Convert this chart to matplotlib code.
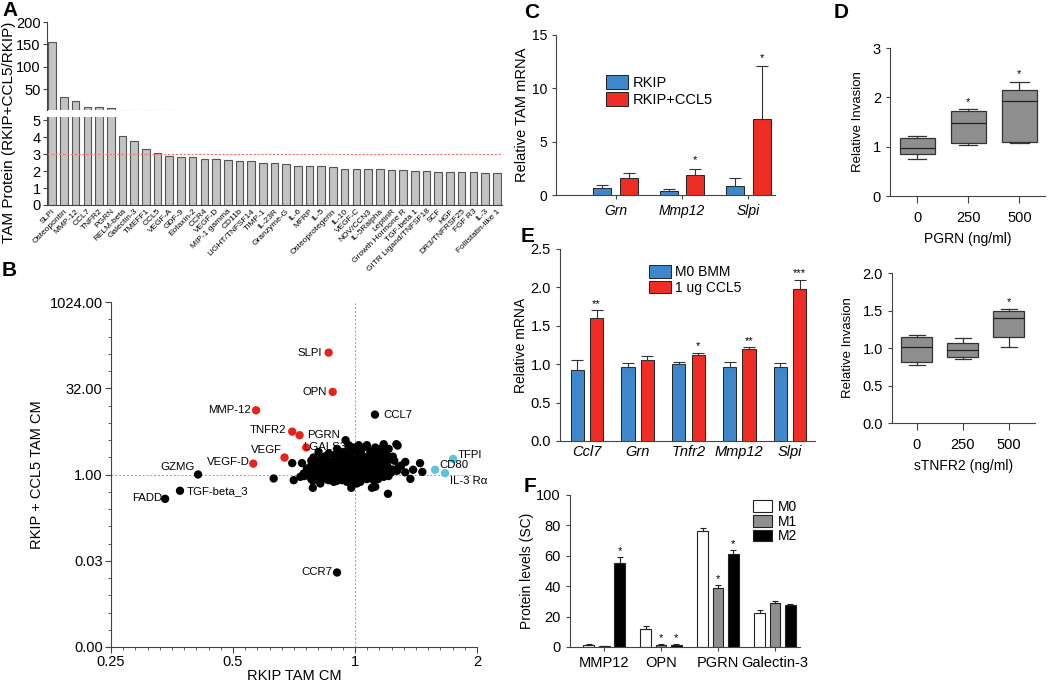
import numpy as np
import matplotlib
matplotlib.use('Agg')
import matplotlib.pyplot as plt
from matplotlib.ticker import FixedLocator, NullFormatter

plt.rcParams['font.family'] = ['Liberation Sans', 'DejaVu Sans']
plt.rcParams['axes.edgecolor'] = '#444444'
plt.rcParams['xtick.color'] = '#444444'
plt.rcParams['ytick.color'] = '#444444'
plt.rcParams['xtick.labelcolor'] = 'black'
plt.rcParams['ytick.labelcolor'] = 'black'

# ---- panel A data
a_labels = ["SLPI", "Osteopontin", "MMP-12", "CCL7", "TNFR2", "PGRN", "RELM-beta",
            "Galectin-3", "TMEFF1", "CCL5", "VEGF-A", "GDF-9", "Eotaxin-2", "CCR4",
            "VEGF-D", "MIP-1 gamma", "CD11b", "LIGHT/TNFSF14", "TIMP-1", "IL-23R",
            "Granzyme-G", "IL-6", "MFRP", "IL-5", "Osteoprotegerin", "IL-10", "VEGF-C",
            "NOV/CCN3", "IL-5Ralpha", "LeptinR", "Growth Hormone R", "TGF-beta 1",
            "GITR Ligand/TNFSF18", "SCF", "HGF", "DR3/TNFRSF25", "FGF R3", "IL-3",
            "Follistatin-like 1"]
a_values = [155, 32, 23.8, 11, 9.6, 7.6, 4.07, 3.8, 3.3, 3.07, 2.9, 2.85, 2.83, 2.72,
            2.7, 2.65, 2.6, 2.6, 2.5, 2.47, 2.44, 2.33, 2.3, 2.3, 2.27, 2.12, 2.12,
            2.12, 2.1, 2.05, 2.04, 1.98, 1.98, 1.97, 1.93, 1.93, 1.93, 1.92, 1.92]
a_cutoff = 3

# ---- panel B data (fold changes, unlabelled spots)
b_cloud_x = [1.177, 1.265, 1.274, 0.948, 0.965, 1.021, 1.070, 0.992, 1.050, 1.122,
             0.903, 1.155, 1.211, 0.813, 0.938, 1.011, 1.091, 0.861, 0.974, 1.133,
             1.188, 0.886, 0.920, 1.041, 1.199, 0.790, 0.845, 0.955, 1.070, 1.155,
             0.821, 0.894, 0.992, 1.112, 1.211, 0.806, 0.869, 0.938, 1.031, 1.133,
             1.331, 1.447, 0.700, 0.740, 0.829, 0.911, 0.974, 1.081, 1.177, 0.798,
             0.861, 0.929, 1.011, 1.091, 1.155, 1.282, 0.761, 0.821, 0.886, 0.955,
             1.041, 1.122, 1.211, 1.391, 0.790, 0.853, 0.920, 0.992, 1.070, 1.177,
             1.270, 1.466, 0.747, 0.813, 0.877, 0.947, 1.021, 1.101, 1.199, 0.768,
             0.845, 0.911, 0.974, 1.050, 1.133, 0.733, 0.798, 0.869, 0.938, 1.002,
             1.081, 1.177, 0.630, 0.829, 0.903, 0.965, 1.041, 1.370, 0.706, 0.790,
             0.861, 0.929, 0.992, 1.112, 0.886, 0.955, 1.031, 0.786, 0.821, 1.011,
             0.787, 0.979, 1.101, 1.122, 1.206,
             0.97, 1.03, 1.10, 1.18,
             0.84, 0.90, 0.96, 1.02, 1.09, 1.17, 1.24,
             0.78, 0.85, 0.91, 0.98, 1.05, 1.12, 1.19, 1.25,
             0.78, 0.84, 0.90, 0.96, 1.02, 1.06, 1.12, 1.20, 1.30,
             0.80, 0.87, 0.93, 0.99, 1.05, 1.15, 1.24,
             0.79, 0.84, 0.90, 0.96, 1.00, 1.06, 1.12, 1.23, 1.33,
             0.75, 0.83, 0.88, 0.95, 1.01, 1.06, 1.15, 1.21,
             0.78, 0.85, 0.92, 0.98, 1.07, 1.14,
             0.90, 0.97, 1.03]
b_cloud_y = [3.38, 3.38, 3.20, 3.97, 3.25, 3.25, 3.25, 2.96, 2.96, 2.96,
             2.80, 2.80, 2.80, 2.48, 2.48, 2.48, 2.48, 2.32, 2.32, 2.32,
             2.32, 2.17, 2.17, 2.17, 2.17, 1.98, 1.98, 1.98, 1.98, 1.98,
             1.83, 1.83, 1.83, 1.83, 1.83, 1.66, 1.66, 1.66, 1.66, 1.66,
             1.66, 1.58, 1.58, 1.58, 1.51, 1.51, 1.51, 1.51, 1.51, 1.36,
             1.36, 1.36, 1.36, 1.36, 1.36, 1.36, 1.27, 1.27, 1.27, 1.27,
             1.27, 1.27, 1.27, 1.21, 1.16, 1.16, 1.16, 1.16, 1.16, 1.16,
             1.16, 1.11, 1.04, 1.04, 1.04, 1.04, 1.04, 1.04, 1.04, 0.973,
             0.973, 0.973, 0.973, 0.973, 0.973, 0.911, 0.911, 0.911, 0.911, 0.911,
             0.911, 0.911, 0.852, 0.852, 0.852, 0.852, 0.852, 0.840, 0.796, 0.796,
             0.796, 0.796, 0.796, 0.796, 0.745, 0.745, 0.745, 0.786, 0.697, 0.697,
             0.586, 0.586, 0.586, 0.610, 0.460,
             2.60, 2.60, 2.60, 2.60,
             2.05, 2.05, 2.05, 2.05, 2.05, 2.05, 2.05,
             1.74, 1.74, 1.74, 1.74, 1.74, 1.74, 1.74, 1.74,
             1.43, 1.43, 1.43, 1.43, 1.43, 1.43, 1.43, 1.43, 1.43,
             1.22, 1.22, 1.22, 1.22, 1.22, 1.22, 1.22,
             1.09, 1.09, 1.09, 1.09, 1.09, 1.09, 1.09, 1.09, 1.09,
             0.94, 0.94, 0.94, 0.94, 0.94, 0.94, 0.94, 0.94,
             0.83, 0.83, 0.83, 0.83, 0.83, 0.83,
             0.77, 0.77, 0.77]
b_red_names = ["SLPI", "OPN", "MMP-12", "TNFR2", "PGRN", "LGALS3", "VEGF", "VEGF-D"]
b_red_x = [0.861, 0.881, 0.570, 0.700, 0.730, 0.758, 0.670, 0.561]
b_red_y = [134, 27.6, 13.2, 5.6, 4.85, 2.96, 1.98, 1.55]
b_black_names = ["CCL7", "GZMG", "TGF-beta_3", "FADD", "CCR7"]
b_black_x = [1.12, 0.41, 0.37, 0.34, 0.903]
b_black_y = [11.1, 1.0, 0.52, 0.376, 0.0195]
b_cyan_names = ["TFPI", "CD80", "IL-3 R\u03b1"]
b_cyan_x = [1.746, 1.576, 1.668]
b_cyan_y = [1.875, 1.21, 1.055]

# ---- panel C data
c_genes = ["Grn", "Mmp12", "Slpi"]
c_rkip = [0.65, 0.35, 0.85]
c_rkip_err = [0.3, 0.2, 0.7]
c_ccl5 = [1.55, 1.85, 7.1]
c_ccl5_err = [0.5, 0.62, 5.0]
c_stars = ["", "*", "*"]

# ---- panel D data (box stats: whisker low, q1, median, q3, whisker high)
d_doses = ["0", "250", "500"]
d_pgrn = [(0.75, 0.85, 0.97, 1.17, 1.22), (1.03, 1.07, 1.48, 1.72, 1.76),
          (1.07, 1.09, 1.92, 2.15, 2.31)]
d_pgrn_stars = ["", "*", "*"]
d_tnfr2 = [(0.78, 0.82, 1.02, 1.15, 1.17), (0.85, 0.88, 0.97, 1.07, 1.14),
           (1.01, 1.15, 1.40, 1.50, 1.52)]
d_tnfr2_stars = ["", "", "*"]

# ---- panel E data
e_genes = ["Ccl7", "Grn", "Tnfr2", "Mmp12", "Slpi"]
e_m0 = [0.93, 0.96, 1.00, 0.96, 0.96]
e_m0_err = [0.13, 0.06, 0.03, 0.07, 0.06]
e_ccl5 = [1.60, 1.06, 1.12, 1.20, 1.98]
e_ccl5_err = [0.10, 0.05, 0.03, 0.02, 0.12]
e_stars = ["**", "", "*", "**", "***"]

# ---- panel F data
f_proteins = ["MMP12", "OPN", "PGRN", "Galectin-3"]
f_m0 = [1.2, 12.0, 76.0, 22.5]
f_m0_err = [0.5, 1.5, 2.0, 2.0]
f_m1 = [0.5, 1.2, 38.5, 29.0]
f_m1_err = [0.3, 0.8, 2.5, 1.0]
f_m2 = [55.0, 1.3, 61.0, 27.5]
f_m2_err = [4.0, 0.5, 3.0, 1.0]
f_m1_stars = ["", "*", "*", ""]
f_m2_stars = ["*", "*", "*", ""]

BLUE = "#3f87cc"
RED = "#ee2d24"
W, H = 1050, 686


def box(l, t, r, b):
    return [l / W, 1 - b / H, (r - l) / W, (b - t) / H]


def clean(ax, size=10):
    ax.spines['top'].set_visible(False)
    ax.spines['right'].set_visible(False)
    ax.tick_params(labelsize=size, length=3)


fig = plt.figure(figsize=(10.5, 6.86), dpi=100)

# ================= A =================
axu = fig.add_axes(box(47, 22, 502, 110))
axl = fig.add_axes(box(47, 117, 502, 205))
xa = np.arange(len(a_labels))
for ax in (axu, axl):
    ax.bar(xa, a_values, width=0.65, color="#c3c3c3", edgecolor="#555555", linewidth=0.8)
    ax.set_xlim(-0.45, len(a_labels) - 0.55)
    clean(ax, 10.5)
    ax.tick_params(axis='y', pad=1.5)
axu.set_ylim(4, 200)
axu.set_yticks([50, 100, 150, 200])
axu.spines['bottom'].set_visible(False)
axu.tick_params(axis='x', bottom=False, labelbottom=False)
axl.set_ylim(0, 5.2)
axl.set_yticks([0, 1, 2, 3, 4, 5])
axl.axhline(a_cutoff, color="#f07070", linestyle=(0, (2, 1.5)), linewidth=0.8)
axl.set_xticks(xa)
axl.set_xticklabels(a_labels, rotation=45, ha='right', rotation_mode='anchor', fontsize=6)
axl.tick_params(axis='x', length=0, pad=2)
fig.text(9 / W, 1 - 132 / H, "TAM Protein (RKIP+CCL5/RKIP)", rotation=90,
         ha='center', va='center', fontsize=11)

# ================= B =================
axb = fig.add_axes(box(111, 302, 477, 647))
axb.set_xscale('log', base=2)
axb.set_yscale('log', base=2)
axb.set_xlim(0.25, 2)
axb.set_ylim(2 ** -10, 2 ** 10)
axb.axvline(1, color="#999999", linestyle=(0, (2, 2)), linewidth=0.7, zorder=0)
axb.axhline(1, color="#999999", linestyle=(0, (2, 2)), linewidth=0.7, zorder=0)
axb.scatter(b_cloud_x, b_cloud_y, s=36, color="black", edgecolors='none', zorder=2)
axb.scatter(b_black_x, b_black_y, s=36, color="black", edgecolors='none', zorder=2)
axb.scatter(b_red_x, b_red_y, s=36, color="#e8221b", edgecolors='none', zorder=3)
axb.scatter(b_cyan_x, b_cyan_y, s=36, color="#5cc4dc", edgecolors='none', zorder=3)
offs_red = [(-5, 0, 'right'), (-4.5, 0, 'right'), (-3.6, 0, 'right'), (-4.3, 1, 'right'),
            (5.3, 0, 'left'), (-2, 0, 'left'), (-1.5, 5.3, 'right'), (-2.6, 1, 'right')]
for n, x, y, (dx, dy, ha) in zip(b_red_names, b_red_x, b_red_y, offs_red):
    axb.annotate(n, (x, y), xytext=(dx, dy), textcoords='offset points', ha=ha,
                 va='center', fontsize=8.2, zorder=6)
offs_black = [(5.8, 0, 'left'), (-2.6, 5.3, 'right'), (4.8, 0, 'left'), (-2.4, 0.5, 'right'),
              (-3.6, 0, 'right')]
for n, x, y, (dx, dy, ha) in zip(b_black_names, b_black_x, b_black_y, offs_black):
    axb.annotate(n, (x, y), xytext=(dx, dy), textcoords='offset points', ha=ha,
                 va='center', fontsize=8.2, zorder=6)
offs_cyan = [(3, 2.6, 'left'), (3.4, 3.1, 'left'), (3.4, -5.5, 'left')]
for n, x, y, (dx, dy, ha) in zip(b_cyan_names, b_cyan_x, b_cyan_y, offs_cyan):
    axb.annotate(n, (x, y), xytext=(dx, dy), textcoords='offset points', ha=ha,
                 va='center', fontsize=8.2, zorder=6)
axb.xaxis.set_major_locator(FixedLocator([0.25, 0.5, 1, 2]))
axb.set_xticklabels(["0.25", "0.5", "1", "2"])
axb.xaxis.set_minor_locator(FixedLocator(2 ** (np.arange(-20, 11) / 10)))
axb.xaxis.set_minor_formatter(NullFormatter())
axb.yaxis.set_major_locator(FixedLocator([2 ** -10, 2 ** -5, 1, 2 ** 5, 2 ** 10]))
axb.set_yticklabels(["%.2f" % v for v in [2 ** -10, 2 ** -5, 1, 2 ** 5, 2 ** 10]])
axb.yaxis.set_minor_locator(FixedLocator(2 ** (np.arange(-10, 11) * 1.0)))
axb.yaxis.set_minor_formatter(NullFormatter())
clean(axb, 10.5)
axb.tick_params(which='minor', length=2)
axb.tick_params(which='major', length=4, pad=2)
axb.set_xlabel("RKIP TAM CM", fontsize=10.5, labelpad=0)
axb.set_ylabel("RKIP + CCL5 TAM CM", fontsize=10.5, labelpad=4)

# ================= C =================
axc = fig.add_axes(box(556, 35, 775, 195))
xc = np.arange(len(c_genes))
err_kw = dict(ecolor="#333333", elinewidth=0.8, capsize=4, capthick=0.8)
axc.bar(xc - 0.2, c_rkip, 0.27, color=BLUE, edgecolor="#222222", linewidth=0.7,
        yerr=[np.zeros(3), c_rkip_err], error_kw=err_kw, label="RKIP")
axc.bar(xc + 0.2, c_ccl5, 0.27, color=RED, edgecolor="#222222", linewidth=0.7,
        yerr=[np.zeros(3), c_ccl5_err], error_kw=err_kw, label="RKIP+CCL5")
for i, s in enumerate(c_stars):
    if s:
        axc.text(xc[i] + 0.2, c_ccl5[i] + c_ccl5_err[i] + 0.3, s, ha='center',
                 va='bottom', fontsize=8)
axc.set_xlim(-0.9, 2.4)
axc.set_ylim(0, 15)
axc.set_yticks([0, 5, 10, 15])
axc.set_xticks(xc)
axc.set_xticklabels(c_genes, style='italic')
clean(axc)
axc.set_ylabel("Relative TAM mRNA", fontsize=10.5, labelpad=2)
axc.legend(loc='upper left', bbox_to_anchor=(0.17, 0.83), frameon=False, fontsize=10.5,
           handlelength=1.5, handleheight=1.1, handletextpad=0.3, labelspacing=0.15)

# ================= D =================
def draw_box(ax, stats, stars, top_pad):
    bs = []
    for lo, q1, med, q3, hi in stats:
        bs.append(dict(whislo=lo, q1=q1, med=med, q3=q3, whishi=hi, fliers=[]))
    ax.bxp(bs, positions=range(len(stats)), widths=0.68, patch_artist=True,
           showfliers=False,
           boxprops=dict(facecolor="#8e8e8e", edgecolor="#333333", linewidth=0.9),
           medianprops=dict(color="#222222", linewidth=0.9),
           whiskerprops=dict(color="#333333", linewidth=0.9),
           capprops=dict(color="#333333", linewidth=0.9), capwidths=0.36)
    for i, s in enumerate(stars):
        if s:
            ax.text(i, stats[i][4] + top_pad, s, ha='center', va='bottom', fontsize=8)

axd1 = fig.add_axes(box(890, 48, 1045, 196))
draw_box(axd1, d_pgrn, d_pgrn_stars, 0.05)
axd1.set_xlim(-0.53, 2.5)
axd1.set_ylim(0, 3)
axd1.set_yticks([0, 1, 2, 3])
axd1.set_xticks(range(3))
axd1.set_xticklabels(d_doses)
clean(axd1, 10.5)
axd1.tick_params(axis='x', length=5, pad=6)
axd1.set_xlabel("PGRN (ng/ml)", fontsize=10, labelpad=5)
axd1.set_ylabel("Relative Invasion", fontsize=9.5, labelpad=6)

axd2 = fig.add_axes(box(892, 273, 1035, 423))
draw_box(axd2, d_tnfr2, d_tnfr2_stars, 0.03)
axd2.set_xlim(-0.54, 2.57)
axd2.set_ylim(0, 2)
axd2.set_yticks([0, 0.5, 1.0, 1.5, 2.0])
axd2.set_yticklabels(["0.0", "0.5", "1.0", "1.5", "2.0"])
axd2.set_xticks(range(3))
axd2.set_xticklabels(d_doses)
clean(axd2, 10.5)
axd2.tick_params(axis='x', length=5, pad=6)
axd2.set_xlabel("sTNFR2 (ng/ml)", fontsize=10, labelpad=5)
axd2.set_ylabel("Relative Invasion", fontsize=9.5, labelpad=6)

# ================= E =================
axe = fig.add_axes(box(560, 249, 815, 441))
xe = np.arange(len(e_genes))
axe.bar(xe - 0.19, e_m0, 0.26, color=BLUE, edgecolor="#222222", linewidth=0.7,
        yerr=[np.zeros(5), e_m0_err], error_kw=err_kw, label="M0 BMM")
axe.bar(xe + 0.19, e_ccl5, 0.26, color=RED, edgecolor="#222222", linewidth=0.7,
        yerr=[np.zeros(5), e_ccl5_err], error_kw=err_kw, label="1 ug CCL5")
for i, s in enumerate(e_stars):
    if s:
        axe.text(xe[i] + 0.19, e_ccl5[i] + e_ccl5_err[i] + 0.02, s, ha='center',
                 va='bottom', fontsize=8)
axe.set_xlim(-0.53, 4.49)
axe.set_ylim(0, 2.5)
axe.set_yticks([0, 0.5, 1.0, 1.5, 2.0, 2.5])
axe.set_yticklabels(["0.0", "0.5", "1.0", "1.5", "2.0", "2.5"])
axe.set_xticks(xe)
axe.set_xticklabels(e_genes, style='italic')
clean(axe, 10.5)
axe.tick_params(axis='x', length=0, pad=3)
axe.set_ylabel("Relative mRNA", fontsize=10, labelpad=2)
axe.legend(loc='upper left', bbox_to_anchor=(0.3, 0.98), frameon=False, fontsize=10,
           handlelength=1.6, handleheight=1.0, handletextpad=0.3, labelspacing=0.1)

# ================= F =================
axf = fig.add_axes(box(570, 495, 800, 647))
xf = np.arange(len(f_proteins))
f_err = dict(ecolor="#222222", elinewidth=0.8, capsize=2, capthick=0.8)
axf.bar(xf - 0.27, f_m0, 0.19, color="white", edgecolor="#222222", linewidth=0.8,
        yerr=[np.zeros(4), f_m0_err], error_kw=f_err, label="M0")
axf.bar(xf, f_m1, 0.19, color="#8f8f8f", edgecolor="#222222", linewidth=0.8,
        yerr=[np.zeros(4), f_m1_err], error_kw=f_err, label="M1")
axf.bar(xf + 0.27, f_m2, 0.19, color="black", edgecolor="#222222", linewidth=0.8,
        yerr=[np.zeros(4), f_m2_err], error_kw=f_err, label="M2")
for i in range(4):
    if f_m1_stars[i]:
        axf.text(xf[i], f_m1[i] + f_m1_err[i] + 0.5, f_m1_stars[i], ha='center',
                 va='bottom', fontsize=8)
    if f_m2_stars[i]:
        axf.text(xf[i] + 0.27, f_m2[i] + f_m2_err[i] + 0.5, f_m2_stars[i], ha='center',
                 va='bottom', fontsize=8)
axf.set_xlim(-0.6, 3.44)
axf.set_ylim(0, 100)
axf.set_yticks([0, 20, 40, 60, 80, 100])
axf.set_xticks(xf)
axf.set_xticklabels(f_proteins)
clean(axf, 10.5)
axf.set_ylabel("Protein levels (SC)", fontsize=10, labelpad=2)
axf.legend(loc='upper left', bbox_to_anchor=(0.74, 1.05), frameon=False, fontsize=10,
           handlelength=1.4, handleheight=0.9, handletextpad=0.4, labelspacing=0.05)

# ---- panel letters
for letter, x, y in [("A", 2, 10), ("B", 2, 270), ("C", 524, 12), ("D", 834, 12),
                     ("E", 521, 236), ("F", 524, 487)]:
    fig.text(x / W, 1 - y / H, letter, fontsize=15, fontweight='bold', va='center')

fig.savefig("out.png", dpi=100)
